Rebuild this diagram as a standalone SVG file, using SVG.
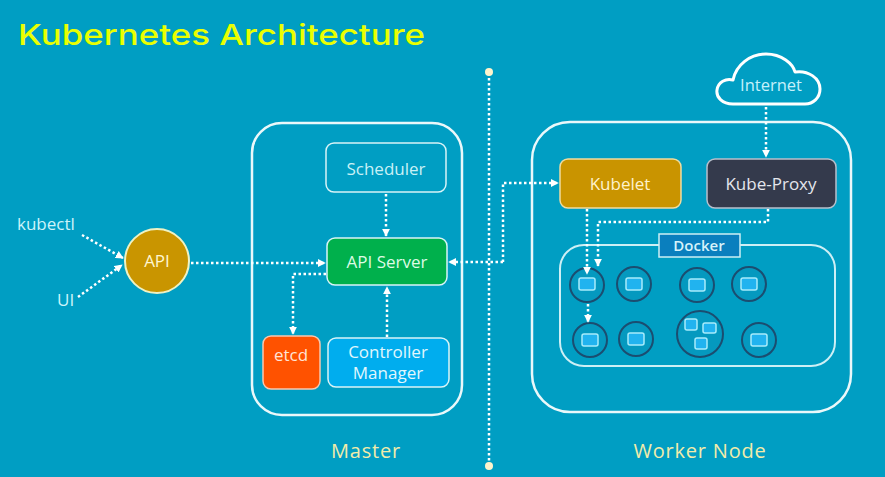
<svg xmlns="http://www.w3.org/2000/svg" width="885" height="477" viewBox="0 0 885 477">
<defs>
<marker id="ah" viewBox="0 0 10 10" refX="9" refY="5" markerWidth="3.2" markerHeight="3.2" orient="auto" markerUnits="strokeWidth">
<path d="M0,0 L10,5 L0,10 Z" fill="#ffffff"/>
</marker>
<style>
text{font-family:"Open Sans","Liberation Sans",sans-serif}
.dot{fill:none;stroke:#ffffff;stroke-width:2.5;stroke-dasharray:2.5 2.5}
.frame{fill:none;stroke:#eaf8fa;stroke-width:2.5}
.box{stroke:#d8f4f8;stroke-width:1.5}
.lbl{font-size:17px;text-anchor:middle}
.pod{fill:#0599bf;stroke:#1b4d70;stroke-width:2}
.ctr{fill:#21b3ef;stroke:#a8ecfb;stroke-width:1.5}
.sec{font-size:20px;fill:#f2ecaa;text-anchor:middle;letter-spacing:0.8px}
</style>
</defs>
<rect width="885" height="477" fill="#009ec3"/>
<text x="18" y="45" font-size="29" font-weight="500" fill="#eaff00" style="font-family:Inter,'Open Sans',sans-serif" textLength="407" lengthAdjust="spacingAndGlyphs">Kubernetes Architecture</text>

<g id="divider">
<line x1="489" y1="73" x2="489" y2="464" class="dot"/>
<circle cx="489" cy="72" r="4" fill="#fff4cc"/>
<circle cx="489" cy="466" r="4" fill="#fff4cc"/>
</g>

<g id="master">
<rect x="252" y="123" width="210" height="292" rx="30" class="frame"/>
<text x="366" y="458" class="sec">Master</text>
</g>
<g id="worker">
<rect x="532" y="122" width="319" height="290" rx="38" class="frame"/>
<text x="700" y="458" class="sec">Worker Node</text>
</g>

<g id="kubectl"><text x="17" y="230" font-size="17" fill="#cdf4fa">kubectl</text></g>
<g id="ui"><text x="57" y="306" font-size="17" fill="#cdf4fa">UI</text></g>
<g id="api">
<circle cx="157" cy="261" r="32" fill="#c99500" stroke="#eef2c4" stroke-width="2"/>
<text x="157" y="267" class="lbl" font-size="16" fill="#fff6d0">API</text>
</g>

<g id="scheduler">
<rect x="326" y="143" width="120" height="49" rx="8" fill="none" class="box"/>
<text x="386" y="175" class="lbl" fill="#c9f1f6">Scheduler</text>
</g>
<g id="apiserver">
<rect x="327" y="238" width="120" height="47" rx="8" fill="#00b04c" class="box"/>
<text x="387" y="268" class="lbl" fill="#dcfbe4">API Server</text>
</g>
<g id="etcd">
<rect x="263" y="336" width="57" height="53" rx="8" fill="#ff5200" stroke="#f7c8b0" stroke-width="1.5"/>
<text x="291" y="361" class="lbl" fill="#ffe4d6">etcd</text>
</g>
<g id="controller">
<rect x="328" y="338" width="121" height="49" rx="8" fill="#00adee" class="box"/>
<text x="388" y="358" class="lbl" fill="#e2f7fd">Controller</text>
<text x="388" y="379" class="lbl" fill="#e2f7fd">Manager</text>
</g>

<g id="internet">
<path d="M733,104 C722,104 716,97 717,90 C718,82 726,78 733,80 C736,65 750,54 766,54 C782,54 793,64 795,72 C808,70 820,78 820,89 C820,98 813,104 805,104 Z" fill="#009ec3" stroke="#ffffff" stroke-width="3" stroke-linejoin="round"/>
<text x="771" y="91" font-size="16.5" fill="#c6f1fb" text-anchor="middle">Internet</text>
</g>
<g id="kubelet">
<rect x="560" y="159" width="121" height="49" rx="8" fill="#c99400" stroke="#f0dca0" stroke-width="1.5"/>
<text x="620" y="190" class="lbl" font-size="18" fill="#fff2cc">Kubelet</text>
</g>
<g id="kubeproxy">
<rect x="707" y="159" width="129" height="49" rx="8" fill="#343a4c" stroke="#b8c0cc" stroke-width="1.5"/>
<text x="771" y="190" class="lbl" font-size="18" fill="#e4e6ec">Kube-Proxy</text>
</g>

<g id="docker">
<rect x="560" y="245" width="275" height="121" rx="24" fill="none" stroke="#cdeff5" stroke-width="2"/>
<rect x="659" y="234" width="81" height="23" fill="#0a7fbe" stroke="#cdeff5" stroke-width="1.5"/>
<text x="699" y="251" font-size="15" font-weight="600" fill="#d6f2fa" text-anchor="middle">Docker</text>
</g>
<g id="pods">
<circle cx="587" cy="285" r="17" class="pod"/>
<rect x="579" y="278" width="16" height="12" rx="2" class="ctr"/>
<circle cx="634" cy="284" r="17" class="pod"/>
<rect x="626" y="278" width="16" height="12" rx="2" class="ctr"/>
<circle cx="697" cy="285" r="17" class="pod"/>
<rect x="689" y="279" width="16" height="12" rx="2" class="ctr"/>
<circle cx="749" cy="284" r="17" class="pod"/>
<rect x="741" y="278" width="16" height="12" rx="2" class="ctr"/>
<circle cx="590" cy="340" r="17" class="pod"/>
<rect x="582" y="334" width="16" height="12" rx="2" class="ctr"/>
<circle cx="636" cy="339" r="17" class="pod"/>
<rect x="628" y="333" width="16" height="12" rx="2" class="ctr"/>
<circle cx="700" cy="334" r="23" class="pod"/>
<rect x="685" y="319" width="12" height="11" rx="2" class="ctr"/>
<rect x="703" y="323" width="13" height="10" rx="2" class="ctr"/>
<rect x="695" y="338" width="12" height="11" rx="2" class="ctr"/>
<circle cx="759" cy="340" r="17" class="pod"/>
<rect x="751" y="334" width="16" height="12" rx="2" class="ctr"/>
</g>

<g id="connectors">
<line x1="82" y1="235" x2="123" y2="258" class="dot" marker-end="url(#ah)"/>
<line x1="78" y1="297" x2="122" y2="265" class="dot" marker-end="url(#ah)"/>
<line x1="191" y1="263" x2="325" y2="263" class="dot" marker-end="url(#ah)"/>
<line x1="386" y1="194" x2="386" y2="236" class="dot" marker-end="url(#ah)"/>
<line x1="387" y1="337" x2="387" y2="287" class="dot" marker-end="url(#ah)"/>
<polyline points="326,274 293,274 293,334" class="dot" marker-end="url(#ah)"/>
<polyline points="503,262 449,262" class="dot" marker-end="url(#ah)"/>
<polyline points="503,262 503,183 558,183" class="dot" marker-end="url(#ah)"/>
<line x1="766" y1="107" x2="766" y2="157" class="dot" marker-end="url(#ah)"/>
<line x1="587" y1="209" x2="587" y2="274" class="dot" marker-end="url(#ah)"/>
<polyline points="768,209 768,222 598,222 598,266" class="dot" marker-end="url(#ah)"/>
<line x1="588" y1="304" x2="588" y2="322" class="dot" marker-end="url(#ah)"/>
</g>
</svg>
